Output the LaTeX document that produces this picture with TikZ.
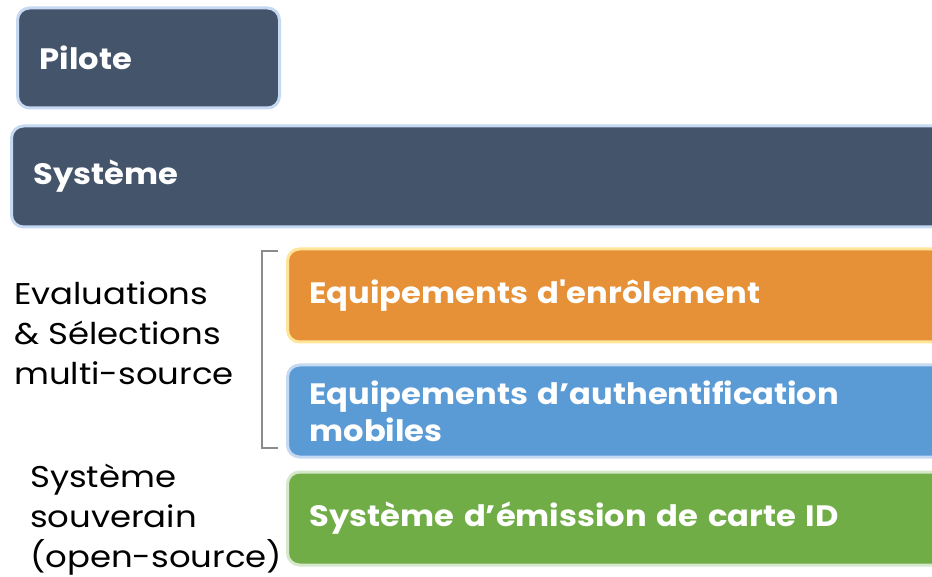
\documentclass[tikz,border=0pt]{standalone}
\usepackage{fontspec}
\newfontfamily\popfont{Poppins}[FakeStretch=1.13]
\newfontfamily\popbold{Poppins Bold}[FakeStretch=1.09]
\definecolor{darkfill}{HTML}{44546A}
\definecolor{blueedge}{HTML}{C6D9F3}
\definecolor{orangefill}{HTML}{E69138}
\definecolor{orangeedge}{HTML}{FFE599}
\definecolor{bluefill}{HTML}{5B9BD5}
\definecolor{greenfill}{HTML}{70AD47}
\definecolor{greenedge}{HTML}{D5E8CC}
\definecolor{bracketgray}{HTML}{8C8C8C}
\tikzset{
  box/.style={draw, line width=3pt, rounded corners=12pt, anchor=west,
    inner xsep=22pt, inner ysep=0pt, align=left, text=white,
    font=\popbold\fontsize{29.5}{37}\selectfont},
  sidelabel/.style={anchor=west, align=left, inner sep=0pt, text=black,
    font=\popfont\fontsize{30}{40}\selectfont}
}
\begin{document}
\begin{tikzpicture}[x=1pt,y=-1pt]
\useasboundingbox (0,0) rectangle (932,577);
\clip (0,0) rectangle (932,577);
\node[box, fill=darkfill, draw=blueedge, minimum height=100pt, text width=218pt] (pilote) at (16,58) {Pilote};
\node[box, fill=darkfill, draw=blueedge, minimum height=101pt, text width=892pt] (systeme) at (10,176.5) {Système};
\node[box, fill=orangefill, draw=orangeedge, minimum height=93pt, text width=616pt] (enrol) at (286,295.5) {Equipements d'enrôlement};
\node[box, fill=bluefill, draw=blueedge, minimum height=92pt, text width=616pt] (auth) at (286,411) {Equipements d’authentification\\mobiles};
\node[box, fill=greenfill, draw=greenedge, minimum height=93pt, text width=616pt] (emission) at (286,518.5) {Système d’émission de carte ID};
\node[sidelabel] (evals) at (14,333) {Evaluations\\\& Sélections\\multi-source};
\node[sidelabel] (souv) at (30,520) {Système\\souverain\\(open-source)};
\coordinate (btop) at (278,251);
\coordinate (bbot) at (278,448);
\draw[bracketgray, line width=1.5pt] (btop) -- ++(-16,0) |- (bbot);
\end{tikzpicture}
\end{document}
